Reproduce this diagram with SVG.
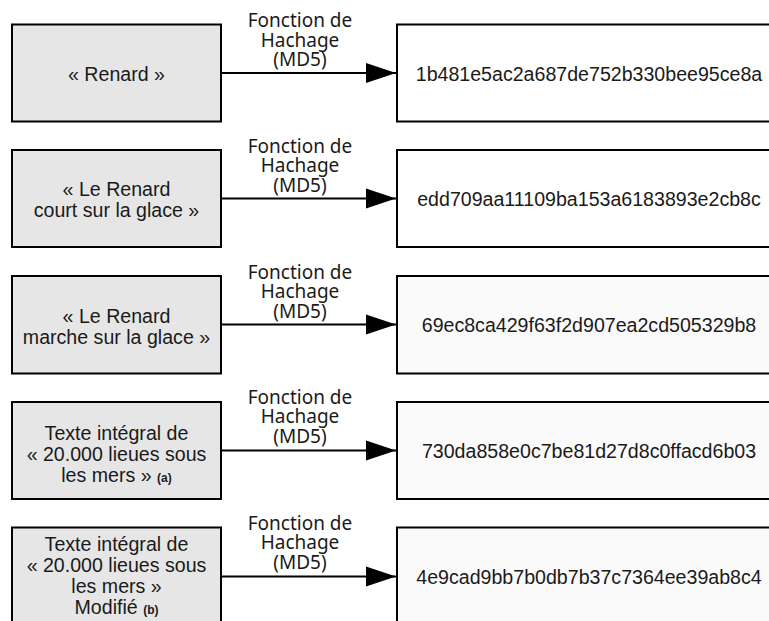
<svg xmlns="http://www.w3.org/2000/svg" width="769" height="621" viewBox="0 0 769 621">
<defs>
<style>
.src{fill:#e6e6e6;stroke:#000;stroke-width:2}
.dst{fill:#fff;stroke:#000;stroke-width:2}
.dst2{fill:#fafafa;stroke:#000;stroke-width:2}
.t{font-family:"Liberation Sans",Arial,sans-serif;font-size:19.6px;fill:#1a1a1a;text-anchor:middle}
.s{font-size:12px;font-weight:bold}
.lbl{font-family:"Noto Sans","Open Sans",sans-serif;font-size:19px;fill:#1a1a1a;text-anchor:middle}
.ln{stroke:#000;stroke-width:2;fill:none}
</style>
<marker id="arr" markerUnits="userSpaceOnUse" markerWidth="32" markerHeight="22" refX="30" refY="11" orient="auto">
<path d="M0,1 L30,11 L0,21 Z" fill="#000"/>
</marker>
</defs>
<rect width="769" height="621" fill="#fff"/>

<g id="connectors">
<line class="ln" x1="222" y1="73" x2="396" y2="73" marker-end="url(#arr)"/>
<text class="lbl" x="300" y="27">Fonction de</text>
<text class="lbl" x="300" y="46.5">Hachage</text>
<text class="lbl" x="300" y="66">(MD5)</text>

<line class="ln" x1="222" y1="198.5" x2="396" y2="198.5" marker-end="url(#arr)"/>
<text class="lbl" x="300" y="152.5">Fonction de</text>
<text class="lbl" x="300" y="172">Hachage</text>
<text class="lbl" x="300" y="191.5">(MD5)</text>

<line class="ln" x1="222" y1="324.5" x2="396" y2="324.5" marker-end="url(#arr)"/>
<text class="lbl" x="300" y="278.5">Fonction de</text>
<text class="lbl" x="300" y="298">Hachage</text>
<text class="lbl" x="300" y="317.5">(MD5)</text>

<line class="ln" x1="222" y1="450.5" x2="396" y2="450.5" marker-end="url(#arr)"/>
<text class="lbl" x="300" y="403.5">Fonction de</text>
<text class="lbl" x="300" y="423">Hachage</text>
<text class="lbl" x="300" y="442.5">(MD5)</text>

<line class="ln" x1="222" y1="576.5" x2="396" y2="576.5" marker-end="url(#arr)"/>
<text class="lbl" x="300" y="529.5">Fonction de</text>
<text class="lbl" x="300" y="549">Hachage</text>
<text class="lbl" x="300" y="568.5">(MD5)</text>
</g>

<g id="src1"><rect class="src" x="12" y="24.5" width="209" height="97"/><text class="t" x="116.5" y="80.5">« Renard »</text></g>
<g id="dst1"><rect class="dst" x="397" y="24.5" width="384" height="97"/><text class="t" x="589" y="80.5">1b481e5ac2a687de752b330bee95ce8a</text></g>

<g id="src2"><rect class="src" x="12" y="150" width="209" height="97"/><text class="t" x="116.5" y="195.5">« Le Renard</text><text class="t" x="116.5" y="216.5">court sur la glace »</text></g>
<g id="dst2"><rect class="dst" x="397" y="150" width="384" height="97"/><text class="t" x="589" y="206">edd709aa11109ba153a6183893e2cb8c</text></g>

<g id="src3"><rect class="src" x="12" y="276" width="209" height="97.5"/><text class="t" x="116.5" y="322.5">« Le Renard</text><text class="t" x="116.5" y="343.5">marche sur la glace »</text></g>
<g id="dst3"><rect class="dst2" x="397" y="276" width="384" height="97.5"/><text class="t" x="589" y="332">69ec8ca429f63f2d907ea2cd505329b8</text></g>

<g id="src4"><rect class="src" x="12" y="402" width="209" height="97"/><text class="t" x="116.5" y="439.5">Texte intégral de</text><text class="t" x="116.5" y="460.5">« 20.000 lieues sous</text><text class="t" x="116.5" y="481.5">les mers » <tspan class="s">(a)</tspan></text></g>
<g id="dst4"><rect class="dst2" x="397" y="402" width="384" height="97"/><text class="t" x="589" y="458">730da858e0c7be81d27d8c0ffacd6b03</text></g>

<g id="src5"><rect class="src" x="12" y="527.5" width="209" height="97"/><text class="t" x="116.5" y="550.5">Texte intégral de</text><text class="t" x="116.5" y="571.5">« 20.000 lieues sous</text><text class="t" x="116.5" y="592.5">les mers »</text><text class="t" x="116.5" y="613.5">Modifié <tspan class="s">(b)</tspan></text></g>
<g id="dst5"><rect class="dst2" x="397" y="527.5" width="384" height="97"/><text class="t" x="589" y="584">4e9cad9bb7b0db7b37c7364ee39ab8c4</text></g>
</svg>
